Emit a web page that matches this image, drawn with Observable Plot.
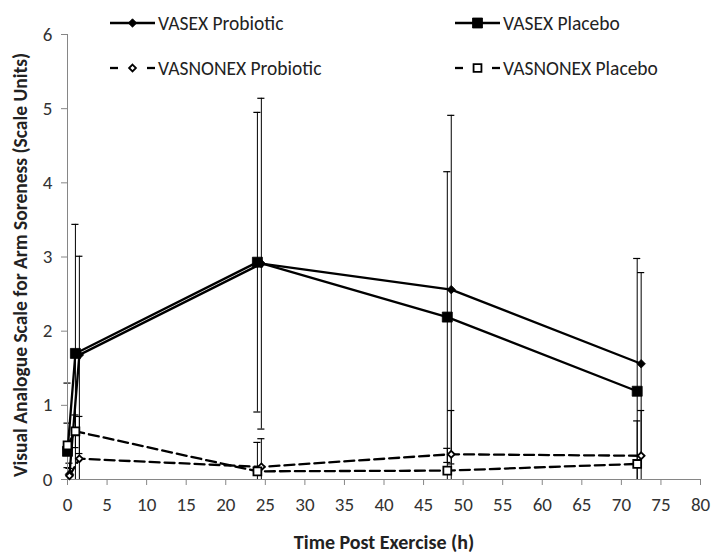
<!DOCTYPE html>
<html><head><meta charset="utf-8">
<script src="https://cdn.jsdelivr.net/npm/d3@7"></script>
<script src="https://cdn.jsdelivr.net/npm/@observablehq/plot@0.6"></script>
<style>
body{margin:0;background:#fff;}
#wrap{position:relative;width:713px;height:554px;overflow:hidden;}
#legend{position:absolute;left:0;top:0;}
</style></head><body><div id="wrap"></div>
<script>
// ---- data ----
const seriesNames = ["VASEX Probiotic", "VASEX Placebo", "VASNONEX Probiotic", "VASNONEX Placebo"];
const timesProbiotic = [0.25, 1.5, 24.5, 48.5, 72.5];
const timesPlacebo = [0, 1, 24, 48, 72];
const vasexProbioticMean = [0.07, 1.68, 2.91, 2.56, 1.56];
const vasexProbioticSD = [0.15, 1.33, 2.23, 2.35, 1.23];
const vasexPlaceboMean = [0.38, 1.70, 2.93, 2.19, 1.19];
const vasexPlaceboSD = [0.92, 1.74, 2.02, 1.96, 1.79];
const nonexProbioticMean = [0.05, 0.28, 0.17, 0.34, 0.32];
const nonexProbioticSD = [0.10, 0.57, 0.38, 0.59, 0.61];
const nonexPlaceboMean = [0.46, 0.65, 0.11, 0.12, 0.21];
const nonexPlaceboSD = [0.30, 0.22, 0.39, 0.30, 0.58];
const xTicks = [0, 5, 10, 15, 20, 25, 30, 35, 40, 45, 50, 55, 60, 65, 70, 75, 80];
const yTicks = [0, 1, 2, 3, 4, 5, 6];
const xLabel = "Time Post Exercise (h)";
const yLabel = "Visual Analogue Scale for Arm Soreness (Scale Units)";

// ---- styles per series ----
const styles = {
  "VASEX Probiotic":    {symbol: "diamond2", fill: "black", dash: null, area: 46},
  "VASEX Placebo":      {symbol: "square",   fill: "black", dash: null, area: 100},
  "VASNONEX Probiotic": {symbol: "diamond2", fill: "white", dash: "10,5", area: 30},
  "VASNONEX Placebo":   {symbol: "square",   fill: "white", dash: "10,5", area: 62}
};
const defs = [
  [seriesNames[0], timesProbiotic, vasexProbioticMean, vasexProbioticSD],
  [seriesNames[1], timesPlacebo, vasexPlaceboMean, vasexPlaceboSD],
  [seriesNames[2], timesProbiotic, nonexProbioticMean, nonexProbioticSD],
  [seriesNames[3], timesPlacebo, nonexPlaceboMean, nonexPlaceboSD]
];
const rows = defs.flatMap(([s, ts, ms, sds]) => ts.map((t, i) => ({
  series: s, t, mean: ms[i], lo: ms[i] - sds[i], hi: ms[i] + sds[i]
})));

const FONT = "Carlito, 'Liberation Sans Narrow', 'Liberation Sans', sans-serif";
const capHalf = 0.45;
const marks = [];
// error bars
marks.push(Plot.ruleX(rows, {x: "t", y1: d => Math.max(0, d.lo), y2: "hi", stroke: "black", strokeWidth: 1}));
marks.push(Plot.ruleY(rows, {x1: d => d.t - capHalf, x2: d => d.t + capHalf, y: "hi", stroke: "black", strokeWidth: 1.2}));
marks.push(Plot.ruleY(rows.filter(d => d.lo >= 0), {x1: d => d.t - capHalf, x2: d => d.t + capHalf, y: "lo", stroke: "black", strokeWidth: 1.2}));
// axes
marks.push(Plot.ruleY([0], {stroke: "#868686", strokeWidth: 1}));
marks.push(Plot.ruleX([0], {stroke: "#868686", strokeWidth: 1}));
marks.push(Plot.axisX({ticks: xTicks, tickFormat: "d", tickSize: 6, tickPadding: 12, stroke: "#868686", color: "#333", fontSize: 19, label: null}));
marks.push(Plot.axisY({ticks: yTicks, tickFormat: "d", tickSize: 6, tickPadding: 9, stroke: "#868686", color: "#333", fontSize: 19, label: null}));
// lines and markers
for (const s of seriesNames) {
  const st = styles[s];
  const data = rows.filter(d => d.series === s);
  marks.push(Plot.line(data, {x: "t", y: "mean", stroke: "black", strokeWidth: 2.3, strokeDasharray: st.dash}));
}
for (const s of seriesNames) {
  const st = styles[s];
  const data = rows.filter(d => d.series === s);
  marks.push(Plot.dot(data, {x: "t", y: "mean", symbol: () => st.symbol, r: Math.sqrt(st.area / Math.PI),
    fill: st.fill, stroke: "black", strokeWidth: st.fill === "white" ? 1.8 : 0.8}));
}
// axis titles
marks.push(Plot.text([xLabel], {frameAnchor: "bottom", dy: 69, fontWeight: "bold", fontSize: 20, fill: "#222"}));
marks.push(Plot.text([yLabel], {frameAnchor: "left", textAnchor: "middle", rotate: -90, dx: -47, dy: 8, fontWeight: "bold", fontSize: 19.5, fill: "#222"}));

const chart = Plot.plot({
  width: 713, height: 554,
  marginLeft: 67, marginRight: 13, marginTop: 34, marginBottom: 75,
  style: {fontFamily: FONT, fontSize: "19px", background: "#fff", color: "#333", overflow: "visible"},
  x: {domain: [0, 80], label: null},
  y: {domain: [0, 6], label: null},
  symbol: {type: "identity"},
  marks
});
const wrap = document.getElementById("wrap");
wrap.appendChild(chart);

// ---- legend overlay ----
const legendPos = [[110, 23], [455, 23], [110, 68], [455, 68]];
const lg = d3.select(wrap).append("svg").attr("id", "legend").attr("width", 713).attr("height", 90);
seriesNames.forEach((s, i) => {
  const st = styles[s];
  const [x, y] = legendPos[i];
  const g = lg.append("g").attr("transform", `translate(${x},${y})`);
  if (st.dash) {
    g.append("line").attr("x1", 0).attr("x2", 8).attr("y1", 0).attr("y2", 0).attr("stroke", "black").attr("stroke-width", 2.3);
    g.append("line").attr("x1", 37).attr("x2", 45).attr("y1", 0).attr("y2", 0).attr("stroke", "black").attr("stroke-width", 2.3);
  } else {
    g.append("line").attr("x1", 0).attr("x2", 45).attr("y1", 0).attr("y2", 0).attr("stroke", "black").attr("stroke-width", 2.3);
  }
  const type = st.symbol === "square" ? d3.symbolSquare : d3.symbolDiamond2;
  g.append("path").attr("d", d3.symbol(type, st.area)()).attr("transform", "translate(22.5,0)")
    .attr("fill", st.fill).attr("stroke", "black").attr("stroke-width", st.fill === "white" ? 1.8 : 0.8);
  g.append("text").attr("x", 48).attr("y", 0).attr("dy", "0.35em").attr("font-family", FONT)
    .attr("font-size", 19.5).attr("fill", "#222").text(s);
});
</script></body></html>
